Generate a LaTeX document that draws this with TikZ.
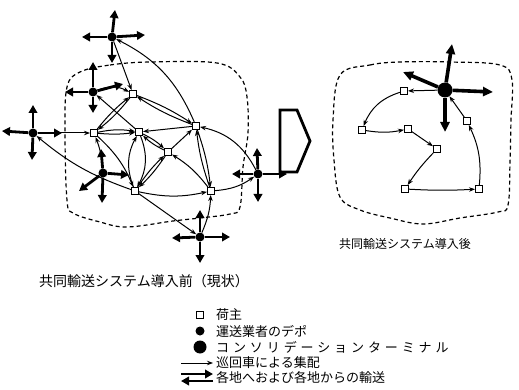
\documentclass[tikz,border=0pt]{standalone}
\usepackage{fontspec}
\newfontfamily\jpfont{Noto Sans CJK JP}
\newfontfamily\jpwide{Noto Sans CJK JP}[LetterSpace=30]
\usetikzlibrary{arrows.meta}

\tikzset{
  shipper/.style={draw,fill=white,line width=1pt,minimum size=7pt,inner sep=0pt},
  depot/.style={circle,fill=black,minimum size=9pt,inner sep=0pt},
  terminal/.style={circle,fill=black,minimum size=15pt,inner sep=0pt},
  route/.style={-{Stealth[length=6pt,width=4.5pt]},line width=1pt},
  haul/.style={-{Triangle[length=8pt,width=8.5pt]},line width=2.8pt},
  bighaul/.style={-{Triangle[length=10pt,width=9pt]},line width=3.6pt},
  area/.style={dash pattern=on 4pt off 3pt,line width=1.2pt},
  lbl/.style={anchor=west,inner sep=0pt,font=\jpfont\fontsize{13}{15}\selectfont},
}

\begin{document}
\begin{tikzpicture}[x=1pt,y=-1pt]
  \useasboundingbox (0,0) rectangle (519,390);

  % before: dashed service area
  \draw[area] plot[smooth cycle,tension=0.6] coordinates {
    (80,72) (110,65) (150,62) (217,63) (240,77) (247,97) (248,133) (243,167)
    (240,207) (230,214) (200,218) (173,221) (127,227) (100,222) (73,213)
    (67,200) (65,133) (67,87)};

  % shippers
  \node[shipper] (s1) at (133,94) {};
  \node[shipper] (s2) at (94,133) {};
  \node[shipper] (s3) at (139,132) {};
  \node[shipper] (s4) at (196,126) {};
  \node[shipper] (s5) at (168,152) {};
  \node[shipper] (s6) at (135,191) {};
  \node[shipper] (s7) at (211,191) {};

  % depots
  \node[depot] (d1) at (112,37) {};
  \node[depot] (d2) at (93,92) {};
  \node[depot] (d3) at (33,133) {};
  \node[depot] (d4) at (103,173) {};
  \node[depot] (d5) at (258,174) {};
  \node[depot] (d6) at (200,237) {};

  % long distance haul at each depot
  \foreach \d/\dx/\dy in {d1/3/-27, d1/-30/0, d1/33/-2, d1/0/26,
                          d2/0/-30, d2/-28/0, d2/30/-8, d2/0/21,
                          d3/0/-28, d3/-31/-2, d3/29/0, d3/-1/27,
                          d4/-2/-24, d4/-24/18, d4/-1/30, d4/26/2,
                          d5/-1/-26, d5/-26/0, d5/29/0, d5/0/28,
                          d6/0/-27, d6/-28/1, d6/30/0, d6/0/26}
    \draw[haul] (\d) -- ++(\dx,\dy);

  % pickup and delivery rounds
  \draw[route] (d1) -- (s1);
  \draw[route] (s4) to[bend right=20] (d1);
  \draw[route] (s1) to[bend left=6] (s4);
  \draw[route] (s4) to[bend left=6] (s1);
  \draw[route] (s1) to[bend left=6] (s2);
  \draw[route] (s2) to[bend left=6] (s1);
  \draw[route] (d2) to[bend left=25] (s1);
  \draw[route] (s3) -- (d2);
  \draw[route] (d3) -- (s2);
  \draw[route] (s6) to[bend left=10] (d3);
  \draw[route] (s2) to[bend left=10] (s3);
  \draw[route] (s2) to[bend right=6] (s3);
  \draw[route] (s3) to[bend left=25] (s6);
  \draw[route] (s6) to[bend left=25] (s3);
  \draw[route] (s4) -- (s3);
  \draw[route] (s3) to[bend left=8] (s5);
  \draw[route] (s5) to[bend left=8] (s3);
  \draw[route] (s5) -- (s4);
  \draw[route] (s5) to[bend left=6] (s6);
  \draw[route] (s6) to[bend left=6] (s5);
  \draw[route] (s7) to[bend right=10] (s5);
  \draw[route] (s4) to[bend left=6] (s7);
  \draw[route] (s7) to[bend left=6] (s4);
  \draw[route] (s6) to[bend right=12] (s7);
  \draw[route] (s7) to[bend right=15] (d5);
  \draw[route] (d5) to[bend right=25] (s4);
  \draw[route] (s6) -- (d6);
  \draw[route] (d6) to[bend right=10] (s7);
  \draw[route] (d4) to[bend right=8] (s2);
  \draw[route] (s2) to[bend left=12] (s6);

  % big arrow between the two states
  \draw[line width=2.8pt,line join=miter] (280,110) -- (297,110) -- (310,141)
    -- (297,172) -- (280,172) -- cycle;

  % after: dashed service area
  \draw[area] plot[smooth cycle,tension=0.6] coordinates {
    (340,75) (370,65) (400,62) (450,62) (500,65) (512,80) (511,120) (510,163)
    (508,205) (498,212) (460,218) (423,224) (390,218) (360,210) (340,197)
    (334,160) (333,120)};

  \node[terminal] (t) at (445,90) {};
  \node[shipper] (r1) at (404,91) {};
  \node[shipper] (r2) at (362,130) {};
  \node[shipper] (r3) at (408,129) {};
  \node[shipper] (r4) at (437,149) {};
  \node[shipper] (r5) at (467,121) {};
  \node[shipper] (r6) at (405,189) {};
  \node[shipper] (r7) at (479,189) {};

  \foreach \dx/\dy in {7/-46, -42/-18, 48/2, 0/42}
    \draw[bighaul] (t) -- ++(\dx,\dy);

  \draw[route] (t) -- (r1);
  \draw[route] (r1) to[bend right=25] (r2);
  \draw[route] (r2) to[bend right=10] (r3);
  \draw[route] (r3) -- (r4);
  \draw[route] (r4) to[bend right=5] (r6);
  \draw[route] (r6) to[bend right=3] (r7);
  \draw[route] (r7) to[bend right=15] (r5);
  \draw[route] (r5) -- (t);

  % titles
  \node[inner sep=0pt,font=\jpfont\fontsize{14}{16}\selectfont] (before) at (144,281)
    {共同輸送システム導入前（現状）};
  \node[inner sep=0pt,font=\jpfont\fontsize{12}{14}\selectfont] (after) at (405,244)
    {共同輸送システム導入後};

  % legend
  \node[shipper] (kshipper) at (200,315) {};
  \node[depot] (kdepot) at (200,331) {};
  \node[terminal,minimum size=13pt] (kterminal) at (200,347) {};
  \coordinate (kroutea) at (181,363);
  \coordinate (krouteb) at (213,363);
  \coordinate (khaula) at (181,374);
  \coordinate (khaulb) at (213,374);
  \coordinate (khaulc) at (181,381);
  \coordinate (khauld) at (213,381);
  \draw[route] (kroutea) -- (krouteb);
  \draw[haul] (khaula) -- (khaulb);
  \draw[haul] (khauld) -- (khaulc);

  \node[lbl] (tshipper) at (216,315) {荷主};
  \node[lbl] (tdepot) at (216,331) {運送業者のデポ};
  \node[lbl,font=\jpwide\fontsize{13}{15}\selectfont] (tterminal) at (216,347)
    {コンソリデーションターミナル};
  \node[lbl] (troute) at (216,363) {巡回車による集配};
  \node[lbl] (thaul) at (216,378) {各地へおよび各地からの輸送};
\end{tikzpicture}
\end{document}
